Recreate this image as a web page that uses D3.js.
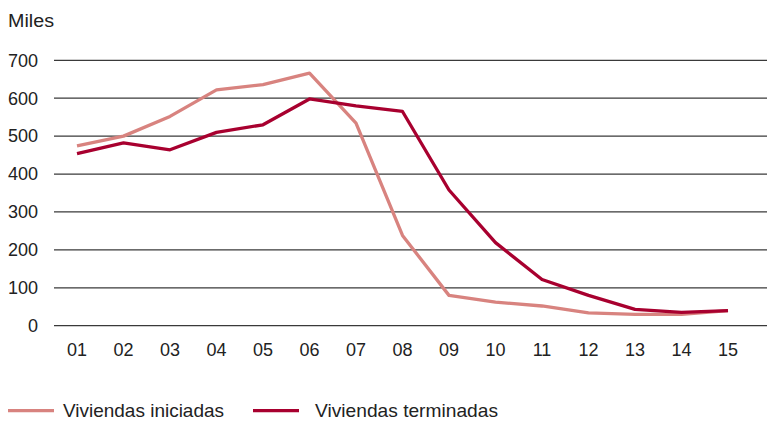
<!DOCTYPE html>
<html>
<head>
<meta charset="utf-8">
<script src="https://cdn.jsdelivr.net/npm/d3@7"></script>
<style>
  body { margin: 0; background: #fff; }
  svg text { font-family: "Liberation Sans", Arial, sans-serif; fill: #222; }
</style>
</head>
<body>
<svg id="chart"></svg>
<script>
const years = ["01", "02", "03", "04", "05", "06", "07", "08", "09", "10", "11", "12", "13", "14", "15"];
const iniciadas = [474, 500, 552, 622, 636, 666, 534, 238, 80, 62, 52, 34, 30, 30, 40];
const terminadas = [454, 482, 464, 510, 530, 598, 580, 565, 358, 219, 122, 80, 43, 35, 40];
const yTicks = [0, 100, 200, 300, 400, 500, 600, 700];

const width = 767;
const height = 421;

const svg = d3.select("#chart").attr("width", width).attr("height", height);

const x = d3.scalePoint().domain(years).range([77, 728]);
const y = d3.scaleLinear().domain([0, 700]).range([325.7, 60.3]);

// gridlines
svg.append("g")
  .selectAll("line")
  .data(yTicks)
  .join("line")
  .attr("x1", 54)
  .attr("x2", width)
  .attr("y1", (d) => y(d))
  .attr("y2", (d) => y(d))
  .attr("stroke", "#3a3a3a")
  .attr("stroke-width", 1.2);

// y labels
svg.append("g")
  .selectAll("text")
  .data(yTicks)
  .join("text")
  .attr("x", 38)
  .attr("y", (d) => y(d) + 6.3)
  .attr("text-anchor", "end")
  .attr("font-size", 18)
  .text((d) => d);

svg.append("text")
  .attr("x", 8)
  .attr("y", 27.3)
  .attr("font-size", 17.5)
  .attr("textLength", 46)
  .attr("lengthAdjust", "spacingAndGlyphs")
  .text("Miles");

// x labels
svg.append("g")
  .selectAll("text")
  .data(years)
  .join("text")
  .attr("x", (d) => x(d))
  .attr("y", 356)
  .attr("text-anchor", "middle")
  .attr("font-size", 18)
  .text((d) => d);

const line = d3.line()
  .x((d, i) => x(years[i]))
  .y((d) => y(d));

const series = [
  { name: "Viviendas iniciadas", values: iniciadas, color: "#d8837f" },
  { name: "Viviendas terminadas", values: terminadas, color: "#a8002f" },
];

svg.append("g")
  .selectAll("path")
  .data(series)
  .join("path")
  .attr("d", (d) => line(d.values))
  .attr("fill", "none")
  .attr("stroke", (d) => d.color)
  .attr("stroke-width", 3.3)
  .attr("stroke-linejoin", "round");

// legend
const legendX = [8, 253];
const legendTextLen = [161, 183];
const legend = svg.append("g")
  .selectAll("g")
  .data(series)
  .join("g")
  .attr("transform", (d, i) => `translate(${legendX[i]},410.7)`);

legend.append("line")
  .attr("x1", 0)
  .attr("x2", 46)
  .attr("stroke", (d) => d.color)
  .attr("stroke-width", 3.3);

legend.append("text")
  .attr("x", (d, i) => (i === 0 ? 55 : 62))
  .attr("y", 6)
  .attr("font-size", 18.5)
  .attr("textLength", (d, i) => legendTextLen[i])
  .attr("lengthAdjust", "spacingAndGlyphs")
  .text((d) => d.name);
</script>
</body>
</html>
